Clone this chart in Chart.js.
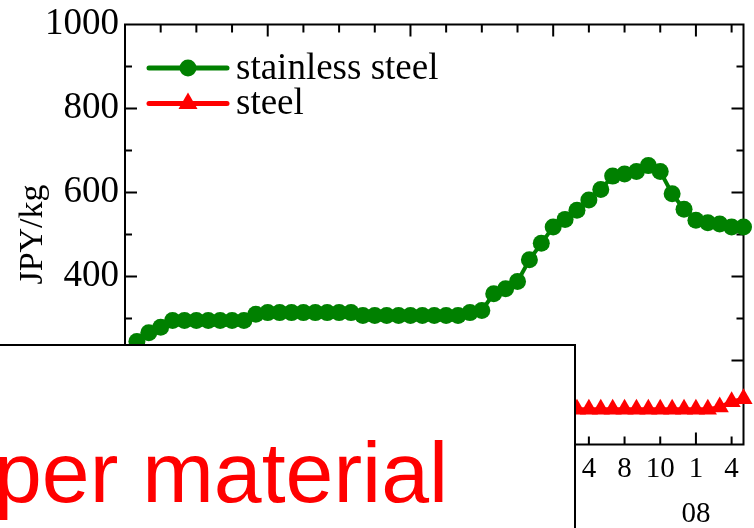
<!DOCTYPE html>
<html>
<head>
<meta charset="utf-8">
<script src="https://cdn.jsdelivr.net/npm/chart.js@4/dist/chart.umd.min.js"></script>
<style>
  html, body { margin: 0; padding: 0; background: #fff; }
  #wrap { position: relative; width: 754px; height: 528px; overflow: hidden; }
  #note {
    position: absolute; left: -3px; top: 344px; width: 579px; height: 200px;
    box-sizing: border-box; border: 2px solid #000; background: #fff;
  }
  #note span {
    position: absolute; left: -5px; top: 83px; white-space: nowrap;
    font: 86px/86px "Liberation Sans", Arial, sans-serif; color: #ff0000;
  }
</style>
</head>
<body>
<div id="wrap">
  <canvas id="chart" width="754" height="528"></canvas>
  <div id="note"><span>per material</span></div>
</div>
<script>
// Monthly prices, JPY/kg
const months = [
  '2004-02','2004-03','2004-04','2004-05','2004-06','2004-07','2004-08','2004-09','2004-10','2004-11','2004-12',
  '2005-01','2005-02','2005-03','2005-04','2005-05','2005-06','2005-07','2005-08','2005-09','2005-10','2005-11','2005-12',
  '2006-01','2006-02','2006-03','2006-04','2006-05','2006-06','2006-07','2006-08','2006-09','2006-10','2006-11','2006-12',
  '2007-01','2007-02','2007-03','2007-04','2007-05','2007-06','2007-07','2007-08','2007-09','2007-10','2007-11','2007-12',
  '2008-01','2008-02','2008-03','2008-04','2008-05'
];
const stainless = [
  245, 266, 279, 295, 295, 295, 295, 295, 295, 295, 310,
  314, 314, 314, 314, 314, 314, 314, 314, 307, 307, 307,
  307, 307, 307, 307, 307, 307, 314, 319, 359, 371, 388, 440,
  479, 518, 536, 558, 582, 607, 639, 644, 650, 664, 650,
  597, 560, 534, 528, 525, 518, 518
];
const steel = [
  null, null, null, null, null, null, null, null, null, null, null,
  null, null, null, null, null, null, null, null, null, null, null,
  null, null, null, null, null, null, null, null, null, null, null,
  null, null, null, 84, 84, 84, 84, 84, 84, 84, 84, 84,
  84, 84, 84, 84, 89, 102, 109
];
// Axis labelling: quarter month numbers, two-digit years under January
const quarterLabels = ['1', '4', '8', '10'];
const yearLabels = ['04', '05', '06', '07', '08'];
const axisStart = '2004-01';
const axisEnd = '2008-05';

const GREEN = '#008000';
const RED = '#ff0000';
const SERIF = '"Liberation Serif", "Times New Roman", serif';

function monthIndex(s) {
  const [yr, mo] = s.split('-').map(Number);
  const [y0, m0] = axisStart.split('-').map(Number);
  return (yr - y0) * 12 + (mo - m0);
}
const tickValues = [];
for (let v = 0; v < monthIndex(axisEnd); v += 3) tickValues.push(v);

// Closed frame with inward tick marks on all four sides
const frameTicks = {
  id: 'frameTicks',
  beforeDatasetsDraw(chart) {
    const { ctx, chartArea: a, scales: { x, y } } = chart;
    ctx.save();
    ctx.strokeStyle = '#000';
    ctx.lineWidth = 2;
    ctx.strokeRect(a.left, a.top, a.right - a.left, a.bottom - a.top);
    ctx.beginPath();
    x.ticks.forEach(t => {
      const px = x.getPixelForValue(t.value);
      const len = t.value % 12 === 0 ? 12 : 8;
      ctx.moveTo(px, a.bottom); ctx.lineTo(px, a.bottom - len);
      ctx.moveTo(px, a.top); ctx.lineTo(px, a.top + len);
    });
    for (let v = y.min + 100; v < y.max; v += 100) {
      const py = y.getPixelForValue(v);
      const len = v % 200 === 0 ? 12 : 7;
      ctx.moveTo(a.left, py); ctx.lineTo(a.left + len, py);
      ctx.moveTo(a.right, py); ctx.lineTo(a.right - len, py);
    }
    ctx.stroke();
    ctx.restore();
  }
};

// Legend inside the plot: line sample with marker, then the series name
const lineLegend = {
  id: 'lineLegend',
  afterDatasetsDraw(chart, args, opts) {
    const ctx = chart.ctx;
    chart.data.datasets.forEach((ds, i) => {
      const yy = opts.top + i * opts.rowGap;
      const cx = (opts.x0 + opts.x1) / 2;
      ctx.save();
      ctx.strokeStyle = ds.borderColor;
      ctx.lineWidth = 5;
      ctx.lineCap = 'round';
      ctx.beginPath();
      ctx.moveTo(opts.x0, yy);
      ctx.lineTo(opts.x1, yy);
      ctx.stroke();
      ctx.fillStyle = ds.pointBackgroundColor;
      Chart.helpers.drawPoint(ctx, { pointStyle: ds.pointStyle, radius: opts.radius[i], borderWidth: 0, rotation: 0 }, cx, yy);
      ctx.fillStyle = '#000';
      ctx.font = opts.fontSize + 'px ' + SERIF;
      ctx.textBaseline = 'middle';
      ctx.textAlign = 'left';
      ctx.fillText(ds.label, opts.textX, yy + 1);
      ctx.restore();
    });
  }
};

new Chart(document.getElementById('chart'), {
  type: 'line',
  data: {
    datasets: [
      {
        label: 'stainless steel',
        data: months.map((m, k) => ({ x: monthIndex(m), y: stainless[k] })),
        borderColor: GREEN, backgroundColor: GREEN, borderWidth: 4,
        pointStyle: 'circle', pointRadius: 8.5, pointBorderWidth: 0,
        pointBackgroundColor: GREEN, tension: 0, clip: false
      },
      {
        label: 'steel',
        data: months.map((m, k) => ({ x: monthIndex(m), y: steel[k] })),
        borderColor: RED, backgroundColor: RED, borderWidth: 4,
        pointStyle: 'triangle', pointRadius: 10.5, pointBorderWidth: 0,
        pointBackgroundColor: RED, tension: 0, clip: false
      }
    ]
  },
  options: {
    responsive: false,
    animation: false,
    events: [],
    layout: { padding: { top: 21, right: 10, left: 0, bottom: 0 } },
    plugins: {
      legend: { display: false },
      tooltip: { enabled: false },
      lineLegend: { x0: 149, x1: 227, top: 68, rowGap: 35.5, textX: 236, fontSize: 37, radius: [8.5, 11] }
    },
    scales: {
      x: {
        type: 'linear',
        min: 0,
        max: monthIndex(axisEnd),
        grid: { display: false, drawTicks: false },
        border: { display: false },
        afterBuildTicks: s => { s.ticks = tickValues.map(v => ({ value: v })); },
        afterFit: s => { s.height = 83.5; },
        ticks: {
          autoSkip: false, maxRotation: 0, minRotation: 0, padding: 2, color: '#000',
          font: { family: SERIF, size: 29, lineHeight: 1.55 },
          callback: v => {
            const q = quarterLabels[(v / 3) % 4];
            return v % 12 === 0 ? [q, yearLabels[v / 12]] : q;
          }
        }
      },
      y: {
        min: 0,
        max: 1000,
        grid: { display: false, drawTicks: false },
        border: { display: false },
        afterFit: s => { s.width = 125; },
        ticks: {
          stepSize: 200, padding: 6, color: '#000',
          font: { family: SERIF, size: 37, lineHeight: 1 },
          callback: v => String(v)
        },
        title: {
          display: true, text: 'JPY/kg', color: '#000',
          font: { family: SERIF, size: 34, lineHeight: 1.2 },
          padding: { top: 13, bottom: 0 }
        }
      }
    }
  },
  plugins: [frameTicks, lineLegend]
});
</script>
</body>
</html>
